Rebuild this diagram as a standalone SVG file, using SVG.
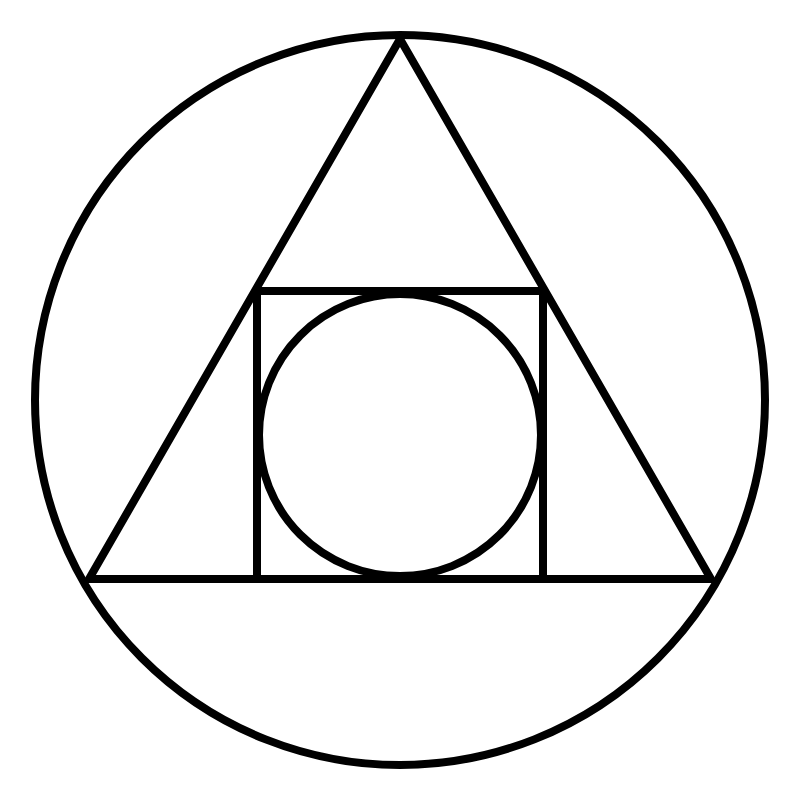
<svg xmlns="http://www.w3.org/2000/svg" width="800" height="800" viewBox="0 0 800 800">
<style>.s{fill:none;stroke:#000;stroke-width:8;stroke-linejoin:miter}</style>
<rect width="800" height="800" fill="#fff"/>
<g id="outer-circle"><circle class="s" cx="400" cy="400" r="365"/></g>
<g id="triangle"><polygon class="s" points="400,39 89,579 711,579"/></g>
<g id="square"><rect class="s" x="257" y="291" width="286" height="288"/></g>
<g id="inner-circle"><circle class="s" cx="400" cy="435" r="141"/></g>
</svg>
